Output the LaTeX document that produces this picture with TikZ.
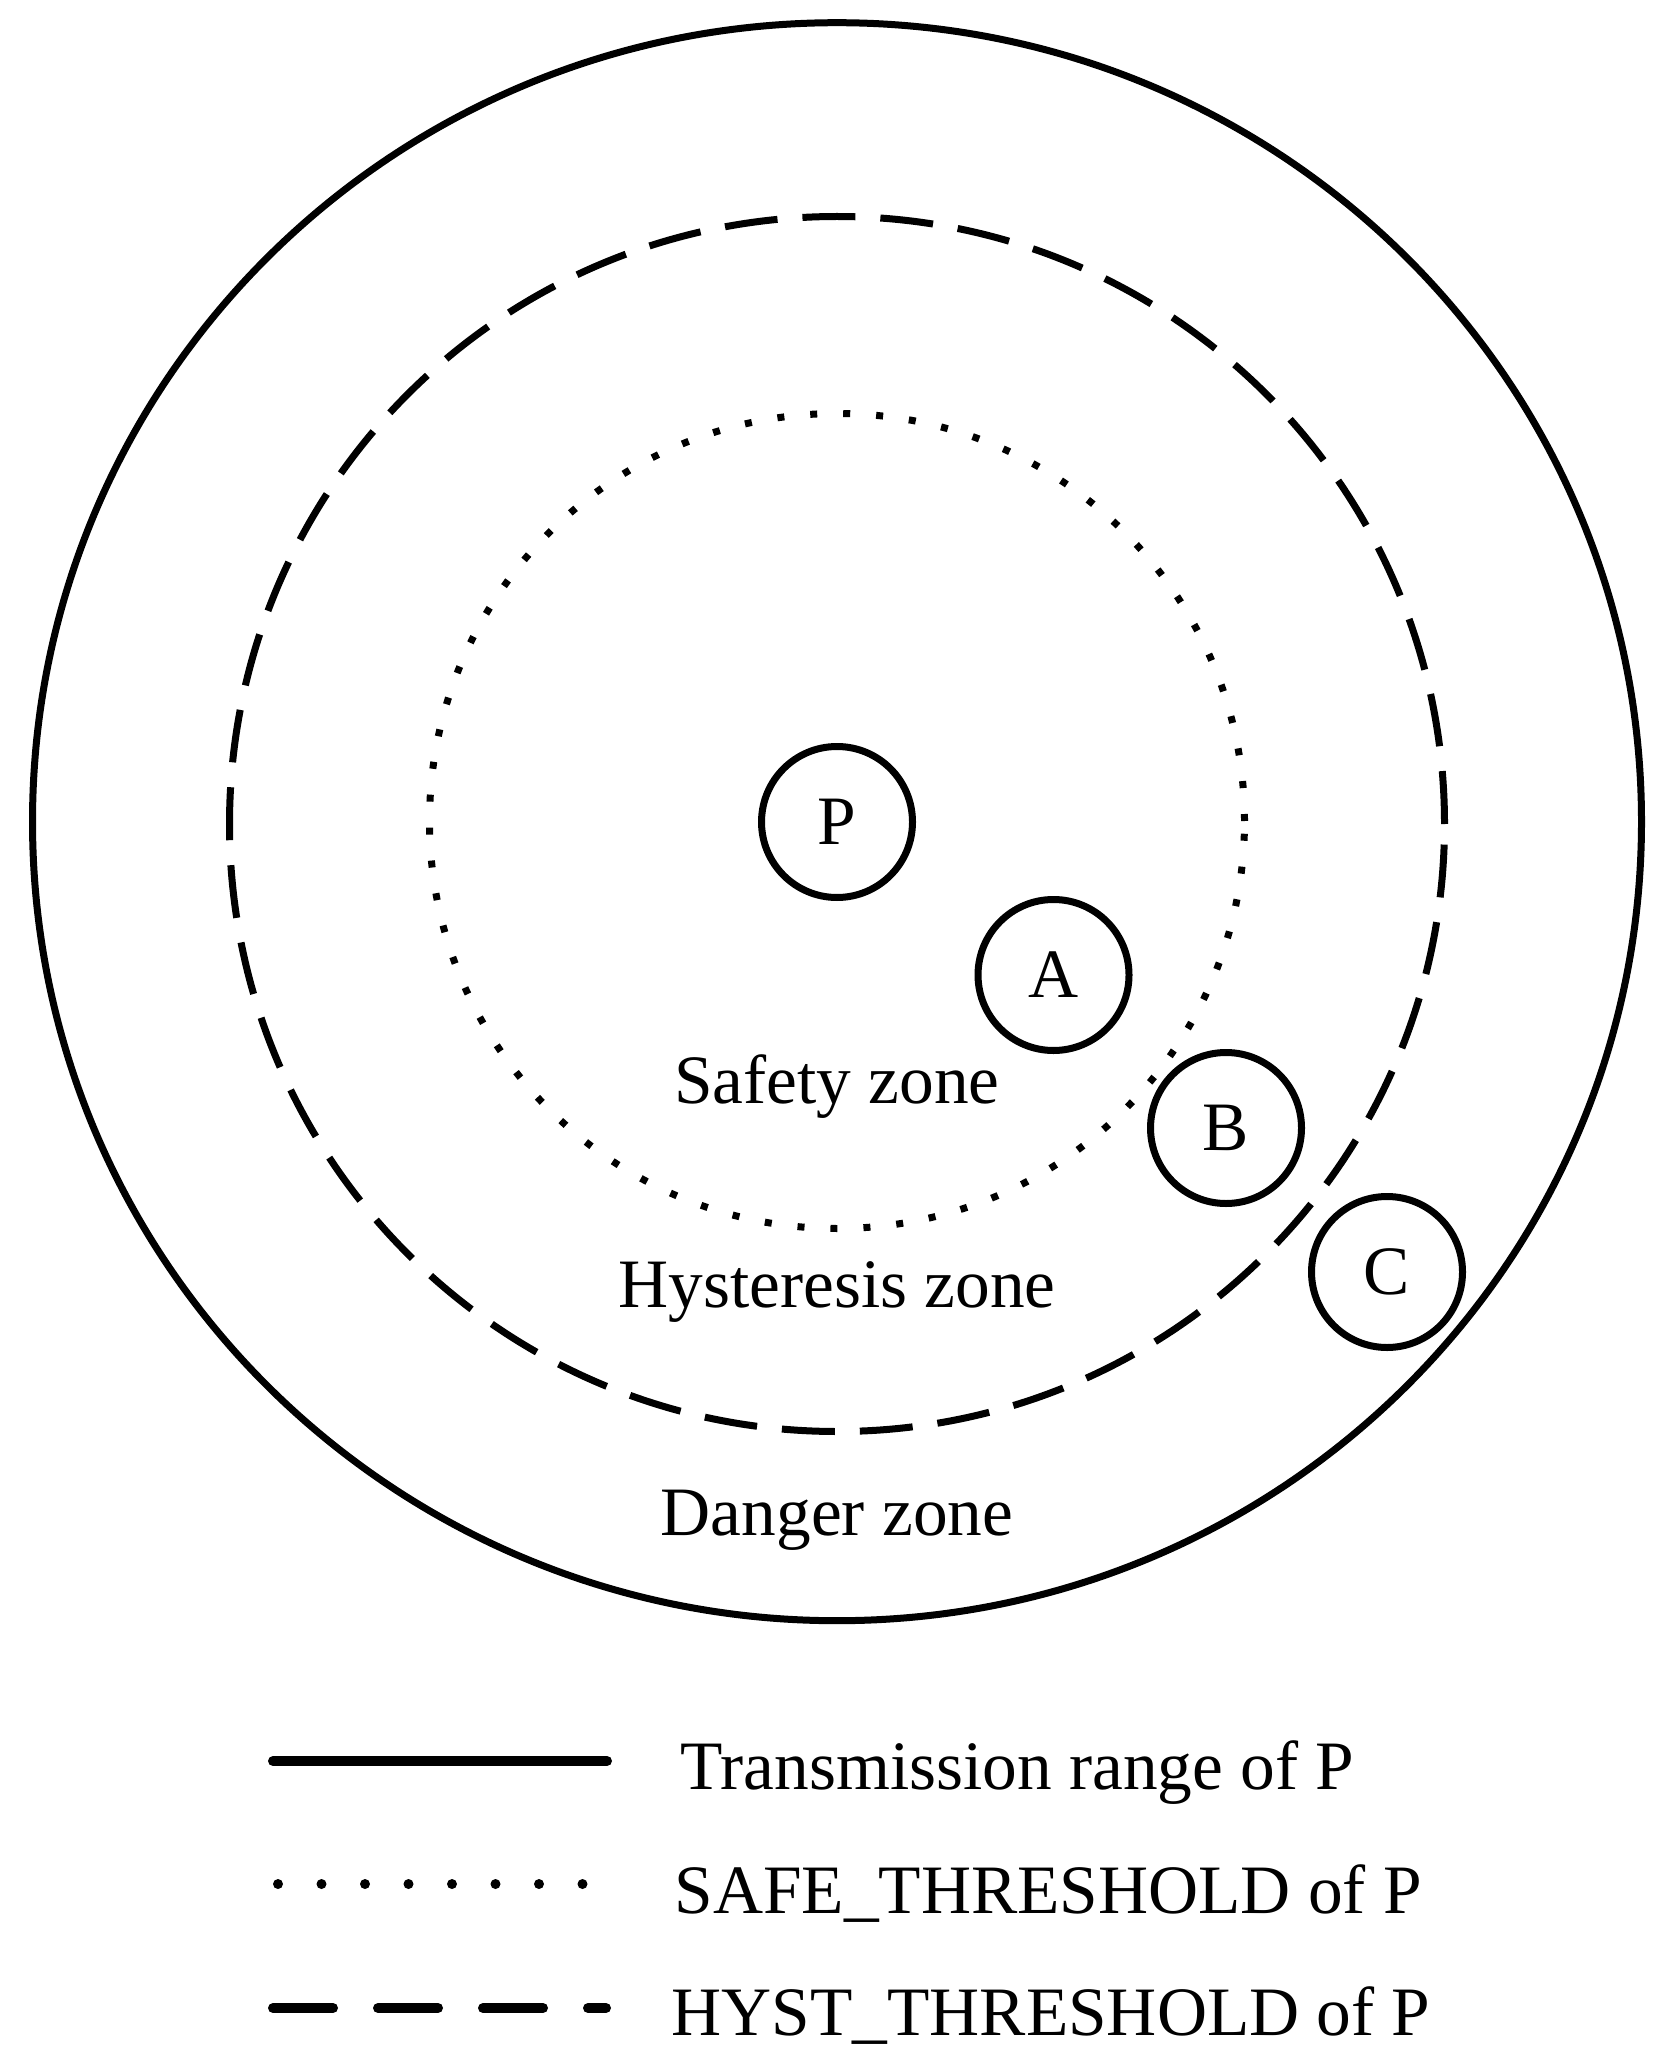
\documentclass[tikz,border=0pt]{standalone}
\usepackage{fontspec}
\setmainfont{Liberation Serif}
\begin{document}
\begin{tikzpicture}[x=0.3pt,y=-0.3pt,
  lbl/.style={font=\fontsize{20.8pt}{24pt}\selectfont, inner sep=0pt},
  nodecirc/.style={circle, draw, line width=2.1pt, minimum size=45.3pt, inner sep=0pt, font=\fontsize{20.8pt}{24pt}\selectfont},
  rangeline/.style={line width=2.1pt},
  safeline/.style={line width=2.1pt, dash pattern=on 2.1pt off 7.8pt},
  hystline/.style={line width=2.1pt, dash pattern=on 15.9pt off 7.5pt},
  legsolid/.style={line width=3pt, line cap=round},
  legdot/.style={line width=3pt, line cap=round, dash pattern=on 0pt off 13.05pt},
  legdash/.style={line width=3pt, line cap=round, dash pattern=on 18pt off 13.5pt}]
\useasboundingbox (0,0) rectangle (1670,2072);
% range circles
\draw[rangeline] (837,821.7) ellipse [x radius=241.35pt, y radius=239.7pt];
\draw[hystline] (837,824) circle [radius=182.25pt];
\draw[safeline] (837,821) circle [radius=122.25pt];
% nodes
\node[nodecirc] (P) at (837,822) {P};
\node[nodecirc] (A) at (1053.5,975) {A};
\node[nodecirc] (B) at (1226,1128) {B};
\node[nodecirc] (C) at (1387,1272) {C};
% zone labels
\node[lbl, anchor=base] (safety) at (837,1103) {Safety zone};
\node[lbl, anchor=base] (hyst) at (837,1307) {Hysteresis zone};
\node[lbl, anchor=base] (danger) at (837,1535) {Danger zone};
% legend
\coordinate (l1a) at (273,1761);
\coordinate (l1b) at (607,1761);
\draw[legsolid] (l1a) -- (l1b);
\node[lbl, anchor=base west] (t1) at (680,1789) {Transmission range of P};
\coordinate (l2a) at (278,1884);
\coordinate (l2b) at (584,1884);
\draw[legdot] (l2a) -- (l2b);
\node[lbl, anchor=base west] (t2) at (674,1913) {SAFE\_THRESHOLD of P};
\coordinate (l3a) at (273,2008);
\coordinate (l3b) at (606,2008);
\draw[legdash] (l3a) -- (l3b);
\node[lbl, anchor=base west] (t3) at (671,2035) {HYST\_THRESHOLD of P};
\end{tikzpicture}
\end{document}
